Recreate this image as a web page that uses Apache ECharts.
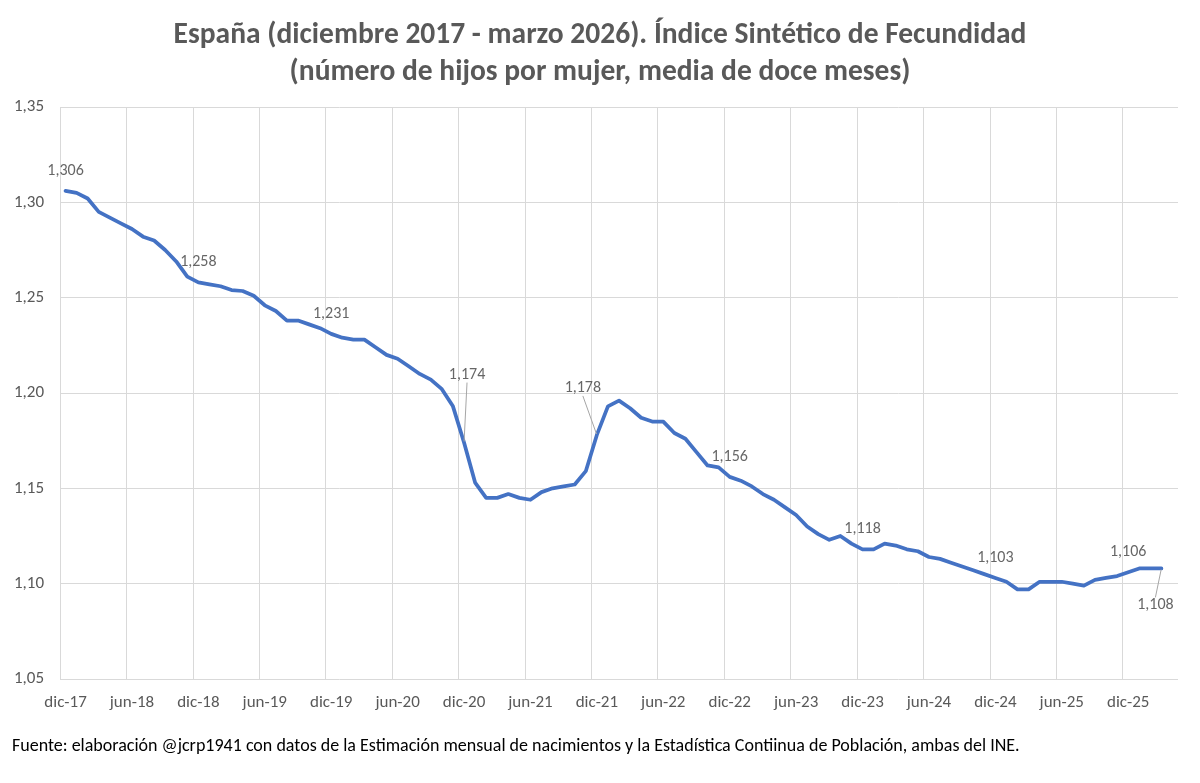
<!DOCTYPE html>
<html>
<head>
<meta charset="utf-8">
<script src="https://cdn.jsdelivr.net/npm/echarts@6/dist/echarts.min.js"></script>
<style>
html,body{margin:0;padding:0;background:#fff;}
#chart{width:1200px;height:783px;}
</style>
</head>
<body>
<div id="chart"></div>
<script>
// Month names and start of the series (dic-17), plus one empty trailing slot as in the original
const meses = ['ene','feb','mar','abr','may','jun','jul','ago','sep','oct','nov','dic'];
const startYear = 2017, startMonth = 11, nCategories = 101;

// Índice Sintético de Fecundidad, media de doce meses (dic-17 ... mar-26)
const isf = [
  1.306, 1.305, 1.302, 1.295, 1.292, 1.289, 1.286, 1.282, 1.280, 1.275, 1.269, 1.261,
  1.258, 1.257, 1.256, 1.254, 1.2535, 1.251, 1.246, 1.243, 1.238, 1.238, 1.236, 1.234,
  1.231, 1.229, 1.228, 1.228, 1.224, 1.220, 1.218, 1.214, 1.210, 1.207, 1.202, 1.193,
  1.174, 1.153, 1.145, 1.145, 1.147, 1.145, 1.144, 1.148, 1.150, 1.151, 1.152, 1.159,
  1.178, 1.193, 1.196, 1.192, 1.187, 1.185, 1.185, 1.179, 1.176, 1.169, 1.162, 1.161,
  1.156, 1.154, 1.151, 1.147, 1.144, 1.140, 1.136, 1.130, 1.126, 1.123, 1.125, 1.121,
  1.118, 1.118, 1.121, 1.120, 1.118, 1.117, 1.114, 1.113, 1.111, 1.109, 1.107, 1.105,
  1.103, 1.101, 1.097, 1.097, 1.101, 1.101, 1.101, 1.100, 1.099, 1.102, 1.103, 1.104,
  1.106, 1.108, 1.108, 1.108
];

// Indices of points that carry a value label
const labelIdx = [0, 12, 24, 36, 48, 60, 72, 84, 96, 99];
// Y-axis tick values
const yTicks = [1.05, 1.10, 1.15, 1.20, 1.25, 1.30, 1.35];

const categories = [];
for (let k = 0; k < nCategories; k++) {
  const m = (startMonth + k) % 12;
  const y = startYear + Math.floor((startMonth + k) / 12);
  categories.push(meses[m] + '-' + String(y).slice(2));
}

const FONT = 'Carlito, Calibri, Lato, "Open Sans", sans-serif';
const fmt = v => v.toFixed(3).replace('.', ',');

const moved = {36: {dx: 3, dy: -48}, 48: {dx: -14, dy: -27}, 99: {dx: -6, dy: 17}};

const labelData = labelIdx.map(i => {
  const item = {value: [i, isf[i]]};
  if (i === 99) item.label = {position: 'bottom'};
  if (moved[i]) item.labelLine = {show: true};
  return item;
});

const chart = echarts.init(document.getElementById('chart'));
chart.setOption({
  animation: false,
  backgroundColor: '#ffffff',
  title: {
    text: 'España (diciembre 2017 - marzo 2026). Índice Sintético de Fecundidad\n(número de hijos por mujer, media de doce meses)',
    left: 'center',
    top: 12,
    textStyle: {fontFamily: FONT, fontSize: 29.5, fontWeight: 'bold', color: '#595959', lineHeight: 37}
  },
  grid: {left: 60, right: 22, top: 107, bottom: 104, containLabel: false},
  xAxis: {
    type: 'category',
    data: categories,
    boundaryGap: true,
    axisLine: {show: false},
    axisTick: {show: false, interval: 5},
    axisLabel: {interval: 5, color: '#595959', fontFamily: FONT, fontSize: 17, margin: 15},
    splitLine: {show: true, interval: 5, showMaxLine: false, lineStyle: {color: '#d9d9d9', width: 1}}
  },
  yAxis: {
    type: 'value',
    min: yTicks[0],
    max: yTicks[yTicks.length - 1],
    interval: 0.05,
    axisLine: {show: false},
    axisTick: {show: false},
    axisLabel: {color: '#595959', fontFamily: FONT, fontSize: 17, margin: 16,
      formatter: v => v.toFixed(2).replace('.', ',')},
    splitLine: {show: true, lineStyle: {color: '#d9d9d9', width: 1}}
  },
  series: [
    {
      type: 'line',
      data: isf,
      showSymbol: false,
      symbol: 'none',
      lineStyle: {color: '#4472C4', width: 3.75, join: 'round', cap: 'round'},
      itemStyle: {color: '#4472C4'},
      z: 2
    },
    {
      type: 'scatter',
      data: labelData,
      symbolSize: 2,
      itemStyle: {color: '#4472C4'},
      label: {
        show: true,
        position: 'top',
        distance: 11,
        fontFamily: FONT,
        fontSize: 16,
        color: '#404040',
        formatter: p => fmt(p.value[1])
      },
      labelLine: {show: false, lineStyle: {color: '#a6a6a6', width: 1}},
      labelLayout: function (params) {
        const idx = labelIdx[params.dataIndex];
        if (moved[idx]) return {dx: moved[idx].dx, dy: moved[idx].dy};
        return {};
      },
      z: 3
    }
  ],
  graphic: [{
    type: 'text',
    left: 12,
    top: 737,
    style: {
      text: 'Fuente: elaboración @jcrp1941 con datos de la Estimación mensual de nacimientos y la Estadística Contiinua de Población, ambas del INE.',
      fontFamily: FONT,
      fontSize: 18,
      fill: '#000000'
    }
  }]
});
</script>
</body>
</html>
